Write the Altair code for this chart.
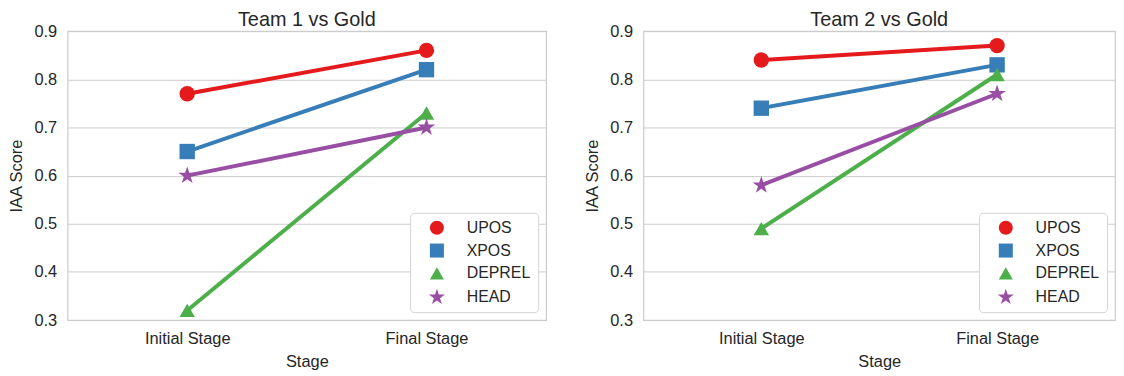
import altair as alt
import pandas as pd

stages = ["Initial Stage", "Final Stage"]
metrics = ["UPOS", "XPOS", "DEPREL", "HEAD"]
team1_initial = [0.77, 0.65, 0.32, 0.60]
team1_final = [0.86, 0.82, 0.73, 0.70]
team2_initial = [0.84, 0.74, 0.49, 0.58]
team2_final = [0.87, 0.83, 0.81, 0.77]
y_ticks = [0.3, 0.4, 0.5, 0.6, 0.7, 0.8, 0.9]
titles = ["Team 1 vs Gold", "Team 2 vs Gold"]

colors = ["#e41a1c", "#377eb8", "#4daf4a", "#984ea3"]
STAR = ("M0,-1.2L0.269,-0.371L1.141,-0.371L0.436,0.142L0.706,0.971L0,0.458"
        "L-0.706,0.971L-0.436,0.142L-1.141,-0.371L-0.269,-0.371Z")
shapes = ["circle", "square", "triangle-up", STAR]
FONT = "Liberation Sans"
TXT = "#262626"


def make_df(initial, final):
    rows = []
    for m, a, b in zip(metrics, initial, final):
        rows.append({"Metric": m, "Stage": stages[0], "Score": a})
        rows.append({"Metric": m, "Stage": stages[1], "Score": b})
    return pd.DataFrame(rows)


legend = alt.Legend(
    title=None, orient="bottom-right", offset=8,
    labelFontSize=16, labelFont=FONT, labelColor=TXT,
    symbolSize=200, symbolOpacity=1, symbolStrokeWidth=0, symbolType="circle",
    padding=7, rowPadding=7, symbolOffset=12, labelOffset=22,
    strokeColor="#d4d4d4", cornerRadius=4, fillColor="white",
)


def panel(df, title, width):
    x = alt.X("Stage:N", sort=stages, scale=alt.Scale(type="point", padding=0.5),
              axis=alt.Axis(title="Stage", labelAngle=0, grid=False))
    y = alt.Y("Score:Q", scale=alt.Scale(domain=[0.3, 0.9], nice=False, zero=False),
              axis=alt.Axis(title="IAA Score", values=y_ticks, format=".1f", grid=True))
    color_scale = alt.Scale(domain=metrics, range=colors)
    shape_scale = alt.Scale(domain=metrics, range=shapes)
    lines = alt.Chart(df).mark_line(strokeWidth=4).encode(
        x=x, y=y,
        color=alt.Color("Metric:N", sort=metrics, scale=color_scale, legend=legend),
    )
    pts = alt.Chart(df).mark_point(filled=True, size=240, opacity=1).encode(
        x=x, y=y,
        color=alt.Color("Metric:N", sort=metrics, scale=color_scale, legend=legend),
        shape=alt.Shape("Metric:N", sort=metrics, scale=shape_scale, legend=legend),
    )
    return alt.layer(lines, pts).properties(
        width=width, height=291,
        title=alt.TitleParams(title, fontSize=20, font=FONT, color=TXT,
                              fontWeight="normal", offset=-7),
    )


left = panel(make_df(team1_initial, team1_final), titles[0], 482)
right = panel(make_df(team2_initial, team2_final), titles[1], 475)

chart = alt.hconcat(left, right, spacing=37, background="white", padding=0).resolve_legend(
    color="independent", shape="independent"
).resolve_scale(color="independent", shape="independent").configure_view(
    stroke="#cccccc", strokeWidth=1.2
).configure_axis(
    domain=False, ticks=False, labelFont=FONT, titleFont=FONT,
    labelFontSize=16.5, titleFontSize=16.5, labelColor=TXT, titleColor=TXT,
    titleFontWeight="normal", gridColor="#cccccc", gridWidth=1,
).configure_axisX(
    labelPadding=11, titlePadding=6,
).configure_axisY(
    labelPadding=11, titlePadding=9,
)

chart.save("out.html", embed_options={"renderer": "svg", "actions": False})
